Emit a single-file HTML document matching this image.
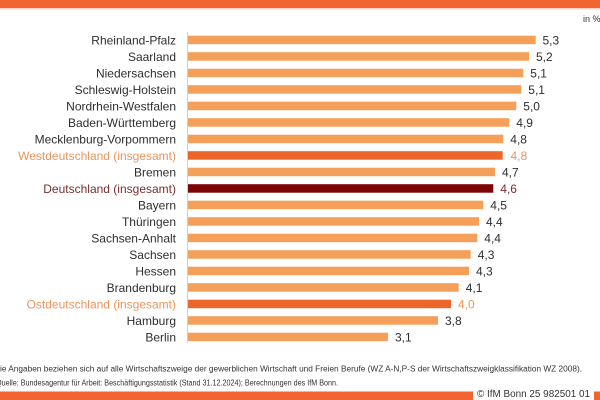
<!DOCTYPE html>
<html>
<head>
<meta charset="utf-8">
<style>
html,body{margin:0;padding:0;background:#fff;}
svg{display:block;}
text{font-family:"Liberation Sans",Arial,sans-serif;}
</style>
</head>
<body>
<svg width="600" height="400" viewBox="0 0 600 400" xmlns="http://www.w3.org/2000/svg">
  <rect x="0" y="0" width="600" height="400" fill="#ffffff"/>
  <!-- top band -->
  <rect x="0" y="0" width="600" height="8" fill="#F26532"/>
  <rect x="0" y="8" width="600" height="1.5" fill="#FBD3C0"/>
  <text x="583" y="22" font-size="9" fill="#333">in %</text>

  <!-- axis -->
  <line x1="187.5" y1="32" x2="187.5" y2="343" stroke="#d0d0d0" stroke-width="1"/>

  <g font-size="12">
    <!-- rows: top = 35.7 + i*16.5, height 8.5, text baseline = top+8.55 -->
    <rect x="188" y="35.7" width="347.7" height="8.5" fill="#F5A05A"/>
    <text x="176" y="44.3" text-anchor="end" fill="#2e2e2e">Rheinland-Pfalz</text>
    <text x="542.5" y="44.3" fill="#2e2e2e">5,3</text>

    <rect x="188" y="52.2" width="341" height="8.5" fill="#F5A05A"/>
    <text x="176" y="60.8" text-anchor="end" fill="#2e2e2e">Saarland</text>
    <text x="536" y="60.8" fill="#2e2e2e">5,2</text>

    <rect x="188" y="68.7" width="335.3" height="8.5" fill="#F5A05A"/>
    <text x="176" y="77.3" text-anchor="end" fill="#2e2e2e">Niedersachsen</text>
    <text x="530.3" y="77.3" fill="#2e2e2e">5,1</text>

    <rect x="188" y="85.2" width="333.3" height="8.5" fill="#F5A05A"/>
    <text x="176" y="93.8" text-anchor="end" fill="#2e2e2e">Schleswig-Holstein</text>
    <text x="528.3" y="93.8" fill="#2e2e2e">5,1</text>

    <rect x="188" y="101.7" width="328.3" height="8.5" fill="#F5A05A"/>
    <text x="176" y="110.3" text-anchor="end" fill="#2e2e2e">Nordrhein-Westfalen</text>
    <text x="523.3" y="110.3" fill="#2e2e2e">5,0</text>

    <rect x="188" y="118.2" width="321.3" height="8.5" fill="#F5A05A"/>
    <text x="176" y="126.8" text-anchor="end" fill="#2e2e2e">Baden-Württemberg</text>
    <text x="516.3" y="126.8" fill="#2e2e2e">4,9</text>

    <rect x="188" y="134.7" width="315.3" height="8.5" fill="#F5A05A"/>
    <text x="176" y="143.3" text-anchor="end" fill="#2e2e2e">Mecklenburg-Vorpommern</text>
    <text x="510.3" y="143.3" fill="#2e2e2e">4,8</text>

    <rect x="188" y="151.2" width="314.7" height="8.5" fill="#EB6628"/>
    <text x="176" y="159.8" text-anchor="end" fill="#E8955E">Westdeutschland (insgesamt)</text>
    <text x="510.5" y="159.8" fill="#E8955E">4,8</text>

    <rect x="188" y="167.7" width="307" height="8.5" fill="#F5A05A"/>
    <text x="176" y="176.3" text-anchor="end" fill="#2e2e2e">Bremen</text>
    <text x="502" y="176.3" fill="#2e2e2e">4,7</text>

    <rect x="188" y="184.2" width="305.3" height="8.5" fill="#7D0404"/>
    <text x="176" y="192.8" text-anchor="end" fill="#7A2E2E">Deutschland (insgesamt)</text>
    <text x="500.3" y="192.8" fill="#7A2E2E">4,6</text>

    <rect x="188" y="200.7" width="295.3" height="8.5" fill="#F5A05A"/>
    <text x="176" y="209.3" text-anchor="end" fill="#2e2e2e">Bayern</text>
    <text x="490.3" y="209.3" fill="#2e2e2e">4,5</text>

    <rect x="188" y="217.2" width="291" height="8.5" fill="#F5A05A"/>
    <text x="176" y="225.8" text-anchor="end" fill="#2e2e2e">Thüringen</text>
    <text x="486" y="225.8" fill="#2e2e2e">4,4</text>

    <rect x="188" y="233.7" width="289.3" height="8.5" fill="#F5A05A"/>
    <text x="176" y="242.3" text-anchor="end" fill="#2e2e2e">Sachsen-Anhalt</text>
    <text x="484.3" y="242.3" fill="#2e2e2e">4,4</text>

    <rect x="188" y="250.2" width="282.7" height="8.5" fill="#F5A05A"/>
    <text x="176" y="258.8" text-anchor="end" fill="#2e2e2e">Sachsen</text>
    <text x="477.7" y="258.8" fill="#2e2e2e">4,3</text>

    <rect x="188" y="266.7" width="281" height="8.5" fill="#F5A05A"/>
    <text x="176" y="275.3" text-anchor="end" fill="#2e2e2e">Hessen</text>
    <text x="476" y="275.3" fill="#2e2e2e">4,3</text>

    <rect x="188" y="283.2" width="270.7" height="8.5" fill="#F5A05A"/>
    <text x="176" y="291.8" text-anchor="end" fill="#2e2e2e">Brandenburg</text>
    <text x="465.7" y="291.8" fill="#2e2e2e">4,1</text>

    <rect x="188" y="299.7" width="263" height="8.5" fill="#EB6628"/>
    <text x="176" y="308.3" text-anchor="end" fill="#E8955E">Ostdeutschland (insgesamt)</text>
    <text x="458" y="308.3" fill="#E8955E">4,0</text>

    <rect x="188" y="316.2" width="250" height="8.5" fill="#F5A05A"/>
    <text x="176" y="324.8" text-anchor="end" fill="#2e2e2e">Hamburg</text>
    <text x="445" y="324.8" fill="#2e2e2e">3,8</text>

    <rect x="188" y="332.7" width="200" height="8.5" fill="#F5A05A"/>
    <text x="176" y="341.3" text-anchor="end" fill="#2e2e2e">Berlin</text>
    <text x="395" y="341.3" fill="#2e2e2e">3,1</text>
  </g>

  <!-- footnotes -->
  <text x="-6" y="371.5" font-size="8" fill="#333" textLength="588" lengthAdjust="spacingAndGlyphs">Die Angaben beziehen sich auf alle Wirtschaftszweige der gewerblichen Wirtschaft und Freien Berufe (WZ A-N,P-S der Wirtschaftszweigklassifikation WZ 2008).</text>
  <text x="-4" y="385.5" font-size="8" fill="#333" textLength="342" lengthAdjust="spacingAndGlyphs">Quelle: Bundesagentur für Arbeit: Beschäftigungsstatistik (Stand 31.12.2024); Berechnungen des IfM Bonn.</text>

  <!-- bottom band -->
  <rect x="0" y="391.5" width="473" height="8.5" fill="#F26532"/>
  <text x="477" y="397" font-size="10" fill="#333" textLength="113" lengthAdjust="spacingAndGlyphs">© IfM Bonn 25 982501 01</text>
  <rect x="594" y="391.5" width="6" height="8.5" fill="#F26532"/>
</svg>
</body>
</html>
